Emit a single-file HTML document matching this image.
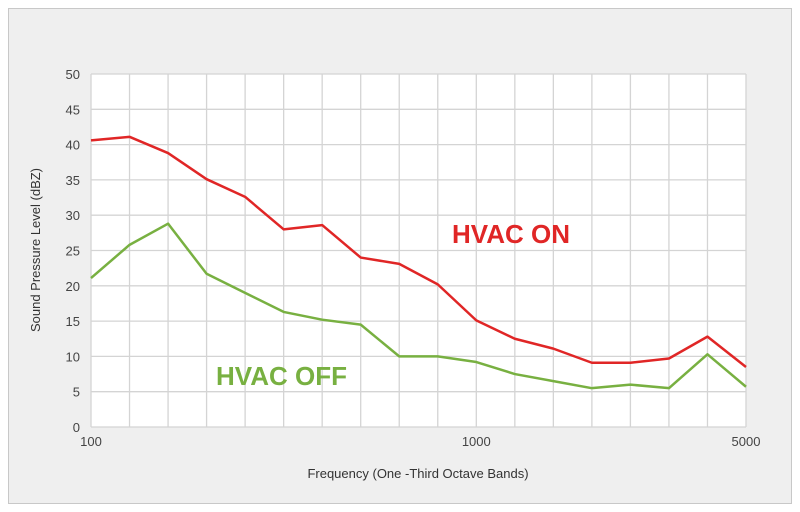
<!DOCTYPE html>
<html><head><meta charset="utf-8"><style>
body{margin:0;background:#fff;}
svg{display:block;font-family:"Liberation Sans",sans-serif;}
</style></head><body>
<svg id="chart" width="800" height="512">
<rect x="8.5" y="8.5" width="783" height="495" fill="#efefef" stroke="#c8c8c8"/>
<rect x="91" y="74" width="655" height="353" fill="#fff"/>
<g id="grid"></g>
<g id="ylabels"></g>
<g id="xlabels"></g>
<g id="series"></g>
<text x="418" y="478" text-anchor="middle" font-size="13" fill="#333">Frequency (One -Third Octave Bands)</text>
<text transform="translate(40,250) rotate(-90)" text-anchor="middle" font-size="13" fill="#333">Sound Pressure Level (dBZ)</text>
<text x="452" y="243" font-size="26" font-weight="bold" fill="#e02626">HVAC ON</text>
<text x="216" y="385" font-size="26" font-weight="bold" fill="#78b041">HVAC OFF</text>
</svg>
<script>
const bands=[100,125,160,200,250,315,400,500,630,800,1000,1250,1600,2000,2500,3150,4000,5000];
const hvacOn=[40.6,41.1,38.8,35.1,32.6,28.0,28.6,24.0,23.1,20.2,15.1,12.5,11.1,9.1,9.1,9.7,12.8,8.5];
const hvacOff=[21.1,25.8,28.8,21.7,19.0,16.3,15.2,14.5,10.0,10.0,9.2,7.5,6.5,5.5,6.0,5.5,10.3,5.7];
const yTicks=[0,5,10,15,20,25,30,35,40,45,50];
const xTickLabels=[[0,"100"],[10,"1000"],[17,"5000"]];
const NS="http://www.w3.org/2000/svg";
const L=91,R=746,T=74,B=427;
const x=i=>L+i*(R-L)/(bands.length-1);
const y=v=>B-v*(B-T)/50;
function mk(t,a,p){const e=document.createElementNS(NS,t);for(const k in a)e.setAttribute(k,a[k]);document.getElementById(p).appendChild(e);return e;}
bands.forEach((b,i)=>{const e=mk('line',{x1:x(i),x2:x(i),y1:T,y2:B,stroke:'#d4d4d4','stroke-width':1.3},'grid');

});
yTicks.forEach(v=>{const e=mk('line',{x1:L,x2:R,y1:y(v),y2:y(v),stroke:'#d4d4d4','stroke-width':1.3},'grid');


const t=mk('text',{x:80,y:y(v)+5,'text-anchor':'end','font-size':13,fill:'#444'},'ylabels');t.textContent=v;

});
xTickLabels.forEach(([i,s])=>{const t=mk('text',{x:x(i),y:446,'text-anchor':'middle','font-size':13,fill:'#444'},'xlabels');t.textContent=s;

});
function line(d,c,n){const p=mk('polyline',{points:d.map((v,i)=>x(i)+','+y(v)).join(' '),fill:'none',stroke:c,'stroke-width':2.5,'stroke-linejoin':'round'},'series');

}
line(hvacOff,'#78b041','hvac-off-line');
line(hvacOn,'#e02626','hvac-on-line');
</script>
</body></html>
